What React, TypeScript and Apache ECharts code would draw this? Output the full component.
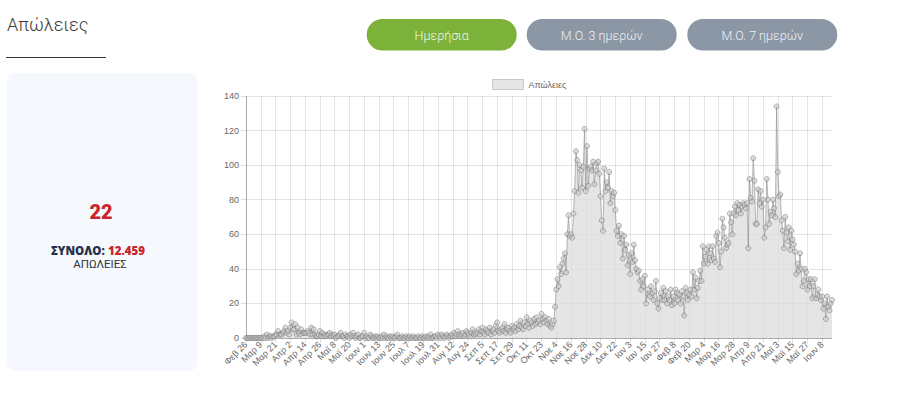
import React, { useEffect, useRef } from "react";
import * as echarts from "echarts";

// Greek month abbreviations used on the x axis
const MONTHS = ["Ιαν", "Φεβ", "Μαρ", "Απρ", "Μαϊ", "Ιουν", "Ιουλ", "Αυγ", "Σεπ", "Οκτ", "Νοε", "Δεκ"];
const START_DATE = [2020, 1, 26]; // 26 Feb 2020 (month is 0-based)

// Daily deaths, one array per month
const feb2020 = [0, 0, 0, 0];
const mar2020 = [0, 0, 0, 0, 0, 0, 0, 0, 0, 0, 0, 1, 0, 2, 0, 1, 1, 0, 1, 1, 2, 2, 4, 2, 2, 2, 3, 4, 6, 3, 4];
const apr2020 = [2, 6, 9, 5, 5, 8, 2, 6, 3, 2, 5, 3, 3, 3, 3, 4, 3, 2, 6, 2, 5, 2, 1, 1, 2, 4, 1, 3, 1, 2];
const may2020 = [1, 2, 2, 3, 1, 2, 1, 2, 0, 1, 1, 2, 3, 1, 1, 0, 2, 1, 1, 0, 2, 1, 3, 1, 0, 1, 2, 0, 0, 1, 1];
const jun2020 = [3, 0, 1, 0, 0, 2, 1, 0, 0, 1, 0, 1, 0, 0, 1, 0, 2, 0, 1, 0, 0, 1, 0, 1, 0, 0, 1, 2, 0, 0];
const jul2020 = [0, 1, 0, 0, 1, 0, 0, 1, 0, 0, 1, 0, 0, 0, 1, 0, 0, 1, 0, 0, 1, 0, 1, 0, 2, 0, 0, 1, 1, 0, 2];
const aug2020 = [1, 0, 2, 1, 0, 1, 2, 1, 0, 1, 2, 1, 3, 1, 2, 4, 2, 1, 2, 3, 1, 2, 4, 3, 2, 1, 3, 5, 2, 3, 2];
const sep2020 = [3, 5, 2, 4, 6, 3, 2, 5, 4, 3, 6, 2, 4, 5, 3, 7, 9, 4, 3, 5, 6, 4, 8, 3, 5, 6, 4, 3, 7, 5];
const oct2020 = [6, 4, 8, 5, 7, 10, 6, 5, 9, 7, 12, 8, 6, 10, 9, 7, 11, 8, 12, 9, 10, 8, 14, 11, 9, 12, 10, 8, 11, 7, 6];
const nov2020 = [8, 10, 18, 28, 34, 30, 41, 37, 43, 46, 49, 38, 60, 71, 59, 60, 58, 72, 85, 108, 103, 84, 100, 97, 87, 99, 121, 85, 111, 88];
const dec2020 = [98, 99, 97, 102, 89, 97, 101, 102, 95, 82, 68, 62, 98, 85, 90, 87, 96, 78, 85, 82, 84, 74, 62, 59, 65, 55, 60, 46, 59, 51, 54];
const jan2021 = [42, 48, 37, 49, 44, 54, 45, 40, 38, 39, 33, 28, 34, 30, 36, 20, 28, 25, 24, 30, 26, 22, 27, 33, 20, 17, 23, 26, 22, 29, 22];
const feb2021 = [27, 20, 24, 22, 28, 19, 24, 20, 28, 26, 22, 25, 20, 27, 24, 13, 29, 26, 22, 25, 28, 24, 38, 28, 35, 23, 29, 33];
const mar2021 = [39, 33, 53, 43, 47, 51, 43, 53, 49, 45, 53, 46, 44, 59, 61, 55, 41, 50, 69, 64, 58, 52, 54, 55, 72, 67, 60, 72, 76, 71, 78];
const apr2021 = [74, 77, 72, 76, 78, 77, 75, 78, 52, 92, 81, 79, 104, 91, 66, 66, 86, 78, 85, 76, 80, 58, 64, 92, 80, 66, 73, 71, 80, 75];
const may2021 = [70, 134, 96, 82, 83, 68, 62, 52, 70, 61, 56, 64, 51, 62, 57, 54, 50, 37, 43, 39, 49, 40, 30, 33, 40, 38, 28, 34, 30, 34, 23];
const jun2021 = [30, 34, 23, 25, 28, 24, 22, 24, 17, 20, 11, 24, 18, 16, 20, 22];

const deaths = [
  ...feb2020, ...mar2020, ...apr2020, ...may2020, ...jun2020, ...jul2020, ...aug2020, ...sep2020,
  ...oct2020, ...nov2020, ...dec2020, ...jan2021, ...feb2021, ...mar2021, ...apr2021, ...may2021, ...jun2021,
];

const days: string[] = deaths.map((_, i) => {
  const d = new Date(Date.UTC(START_DATE[0], START_DATE[1], START_DATE[2] + i));
  return `${MONTHS[d.getUTCMonth()]} ${d.getUTCDate()}`;
});

const SERIES_NAME = "Απώλειες";
const TITLE = "Απώλειες";
const LATEST = "22";
const TOTAL_LABEL = "ΣΥΝΟΛΟ:";
const TOTAL_VALUE = "12.459";
const UNIT_LABEL = "ΑΠΩΛΕΙΕΣ";
const BUTTONS = ["Ημερήσια", "Μ.Ο. 3 ημερών", "Μ.Ο. 7 ημερών"];

const AXIS_FONT = "'Liberation Sans', Arial, sans-serif";

export default function App() {
  const ref = useRef<HTMLDivElement>(null);

  useEffect(() => {
    if (!ref.current) return;
    const chart = echarts.init(ref.current, undefined, { renderer: "svg" });

    const btnX = [366.7, 526.7, 687.3];
    const btnColors = ["#7cb23a", "#8b97a5", "#8b97a5"];
    const buttonEls: any[] = [];
    BUTTONS.forEach((label, i) => {
      buttonEls.push({
        type: "rect",
        shape: { x: btnX[i], y: 19, width: 150, height: 31.5, r: 15.75 },
        style: { fill: btnColors[i] },
      });
      buttonEls.push({
        type: "text",
        x: btnX[i] + 75,
        y: 35,
        style: {
          text: label,
          align: "center",
          verticalAlign: "middle",
          textAlign: "center",
          textVerticalAlign: "middle",
          fontSize: 12.5,
          fontFamily: "Roboto, sans-serif",
          fontWeight: 300,
          fill: i === 0 ? "#f1f7e8" : "#eef1f4",
        },
      });
    });

    chart.setOption({
      animation: false,
      backgroundColor: "#ffffff",
      textStyle: { fontFamily: AXIS_FONT },
      legend: {
        left: 492,
        top: 79,
        padding: 0,
        itemWidth: 31,
        itemHeight: 10,
        itemGap: 10,
        selectedMode: false,
        textStyle: { fontSize: 9, color: "#666666", fontFamily: AXIS_FONT },
        data: [
          {
            name: SERIES_NAME,
            icon: "rect",
            itemStyle: { color: "#e6e6e6", borderColor: "#c8c8c8", borderWidth: 1 },
          },
        ],
      },
      grid: { left: 246, right: 68, top: 96, bottom: 59, containLabel: false },
      xAxis: {
        type: "category",
        data: days,
        boundaryGap: false,
        axisLine: { show: true, lineStyle: { color: "rgba(0,0,0,0.25)", width: 1 } },
        axisTick: { show: true, interval: 11, length: 5, lineStyle: { color: "rgba(0,0,0,0.12)" } },
        axisLabel: {
          interval: 11,
          rotate: 45,
          fontSize: 9,
          color: "#666666",
          margin: 5,
          fontFamily: AXIS_FONT,
        },
        splitLine: { show: true, interval: 11, lineStyle: { color: "rgba(0,0,0,0.1)", width: 1 } },
      },
      yAxis: {
        type: "value",
        min: 0,
        max: 140,
        interval: 20,
        axisLine: { show: true, lineStyle: { color: "rgba(0,0,0,0.25)", width: 1 } },
        axisTick: { show: true, length: 5, lineStyle: { color: "rgba(0,0,0,0.12)" } },
        axisLabel: { fontSize: 9, color: "#666666", margin: 7, fontFamily: AXIS_FONT },
        splitLine: { show: true, lineStyle: { color: "rgba(0,0,0,0.1)", width: 1 } },
      },
      series: [
        {
          type: "line",
          name: SERIES_NAME,
          data: deaths,
          symbol: "circle",
          symbolSize: 5,
          showAllSymbol: true,
          smooth: false,
          lineStyle: { width: 1, color: "rgba(130,130,130,0.55)" },
          itemStyle: { color: "rgba(205,205,205,0.6)", borderColor: "rgba(120,120,120,0.55)", borderWidth: 1 },
          areaStyle: { color: "rgba(220,220,220,0.75)", opacity: 1 },
          emphasis: { disabled: true },
        },
      ],
      graphic: [
        {
          type: "text",
          left: 7,
          top: 15,
          style: {
            text: TITLE,
            fontSize: 18,
            fontFamily: "Roboto, sans-serif",
            fontWeight: 300,
            fill: "#3a3a3a",
          },
        },
        {
          type: "line",
          shape: { x1: 6, y1: 57.5, x2: 106, y2: 57.5 },
          style: { stroke: "#333", lineWidth: 1 },
        },
        {
          type: "rect",
          shape: { x: 7, y: 73, width: 190, height: 298, r: 8 },
          style: { fill: "#f5f8fd" },
          z: -1,
        },
        {
          type: "text",
          x: 101,
          y: 212,
          style: {
            text: LATEST,
            align: "center",
            verticalAlign: "middle",
            textAlign: "center",
            textVerticalAlign: "middle",
            fontSize: 20,
            fontWeight: 900,
            fontFamily: "Roboto, sans-serif",
            fill: "#c8262b",
          },
        },
        {
          type: "text",
          x: 98,
          y: 250.5,
          style: {
            text: `{a|${TOTAL_LABEL}} {b|${TOTAL_VALUE}}`,
            align: "center",
            verticalAlign: "middle",
            textAlign: "center",
            textVerticalAlign: "middle",
            rich: {
              a: { fontSize: 11.5, lineHeight: 12, fontWeight: 800, fontFamily: "'Open Sans', sans-serif", fill: "#25324a", color: "#25324a" },
              b: { fontSize: 11.5, lineHeight: 12, fontWeight: 800, fontFamily: "'Open Sans', sans-serif", fill: "#c8262b", color: "#c8262b" },
            },
          },
        },
        {
          type: "text",
          x: 100,
          y: 264,
          style: {
            text: UNIT_LABEL,
            align: "center",
            verticalAlign: "middle",
            textAlign: "center",
            textVerticalAlign: "middle",
            fontSize: 11.5,
            lineHeight: 12,
            fontFamily: "Roboto, sans-serif",
            fill: "#333",
          },
        },
        ...buttonEls,
      ],
    });

    return () => chart.dispose();
  }, []);

  return (
    <div
      ref={ref}
      style={{ position: "absolute", left: 0, top: 0, width: 900, height: 397, background: "#fff" }}
    />
  );
}
